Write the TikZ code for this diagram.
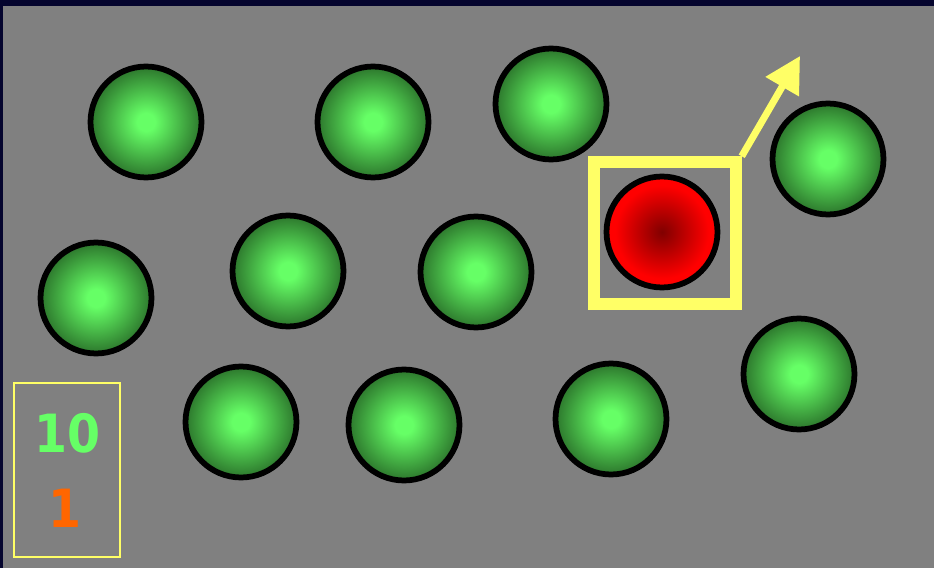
\documentclass[tikz,border=0pt]{standalone}
\usepackage{fontspec}
\newfontfamily\countfont{DejaVu Sans Condensed}
\usetikzlibrary{arrows.meta}
\definecolor{navy}{HTML}{05052E}
\definecolor{stage}{HTML}{808080}
\definecolor{ballgreen}{HTML}{66FF66}
\definecolor{balldark}{HTML}{2C762C}
\definecolor{ballred}{HTML}{FF0000}
\definecolor{redcore}{HTML}{800000}
\definecolor{marker}{HTML}{FFFF66}
\definecolor{tally}{HTML}{FF6600}
\pgfdeclareradialshading{green glow}{\pgfpoint{0bp}{0bp}}{color(0bp)=(ballgreen); color(4bp)=(ballgreen);
  color(25bp)=(balldark); color(50bp)=(balldark)}
\pgfdeclareradialshading{red glow}{\pgfpoint{0bp}{0bp}}{color(0bp)=(redcore);
  color(21bp)=(ballred); color(50bp)=(ballred)}
\tikzset{
  ball/.style={circle, draw=black, line width=0.115cm, minimum size=2.22cm, inner sep=0pt,
    shading=green glow},
  hot ball/.style={ball, shading=red glow},
  target box/.style={rectangle, draw=marker, line width=0.24cm, minimum size=2.83cm, inner sep=0pt},
  tally box/.style={rectangle, draw=marker, line width=0.04cm, minimum width=2.12cm, minimum height=3.48cm},
  count/.style={font=\countfont\bfseries\fontsize{30}{31}\selectfont, inner sep=0pt},
}

\begin{document}
\begin{tikzpicture}[x=0.02cm, y=-0.02cm]
  \fill[navy] (0,0) rectangle (934,568);
  \useasboundingbox (0,0) rectangle (934,568);
  \fill[stage] (3,6) rectangle (934,568);
  % green balls
  \foreach \x/\y [count=\i] in {146/122, 373/122, 551/104, 828/159, 96/298, 288/271,
      476/272, 799/374, 241/422, 404/425, 611/419}
    \node[ball] (g\i) at (\x,\y) {};
  % the red one and its frame
  \node[hot ball] (hot) at (662,232) {};
  \node[target box] (frame) at (665,233) {};
  \coordinate (aim) at (800,56);
  \draw[marker, line width=0.14cm, -{Triangle[length=0.71cm, width=0.74cm]}] (frame.north east) -- (aim);
  % tally
  \node[tally box] (tally) at (67,470) {};
  \node[count, text=ballgreen] (greens) at (67,433) {10};
  \node[count, text=tally] (reds) at (65,508) {1};
\end{tikzpicture}
\end{document}
